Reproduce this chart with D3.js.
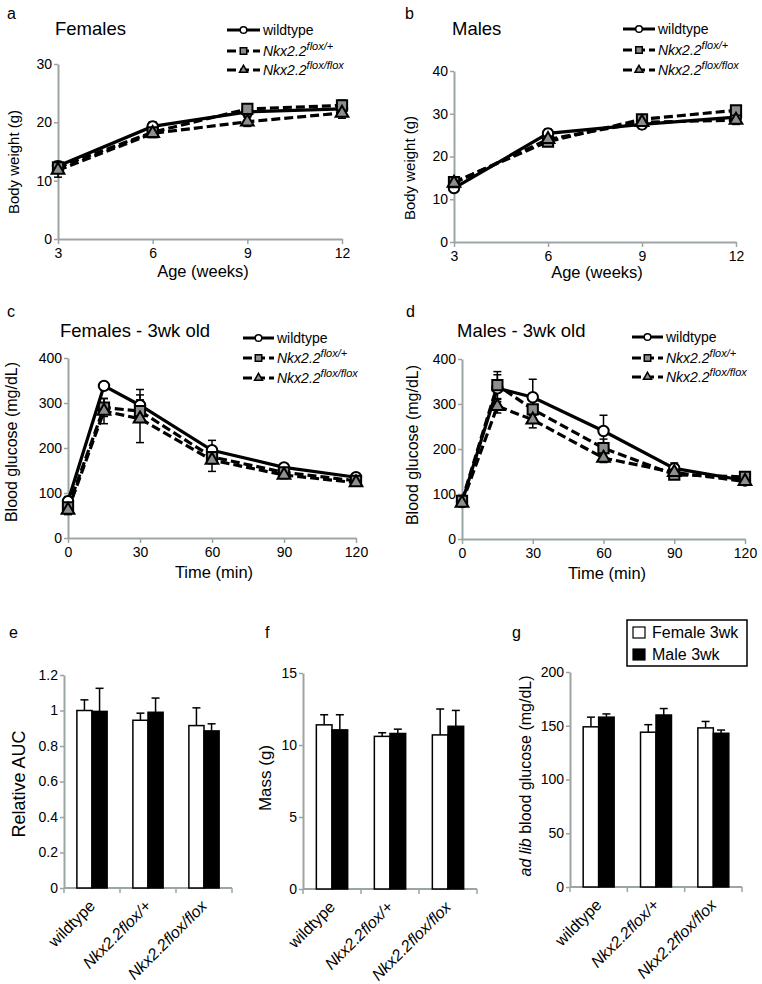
<!DOCTYPE html>
<html>
<head>
<meta charset="utf-8">
<script src="https://cdn.jsdelivr.net/npm/d3@7"></script>
<style>
  body { margin: 0; background: #fff; }
  svg  { display: block; }
</style>
</head>
<body>
<svg id="fig" width="762" height="984"></svg>
<script>
// ─── Data ─────────────────────────────────────────────────────────────────────
const WEEKS = [3, 6, 9, 12];
const F_WEIGHT_WT  = [12.5, 19.3, 21.8, 22.3];
const F_WEIGHT_HET = [12.3, 18.3, 22.3, 22.9];
const F_WEIGHT_HOM = [11.8, 18.1, 20.1, 21.6];
const F_WEIGHT_WT_ERR  = [0.8, 0.8, 0.8, 0.9];
const F_WEIGHT_HET_ERR = [0.8, 0.7, 0.8, 0.9];
const F_WEIGHT_HOM_ERR = [1.2, 0.7, 0.8, 0.9];

const M_WEIGHT_WT  = [12.6, 25.4, 27.5, 29.2];
const M_WEIGHT_HET = [14.0, 23.5, 28.7, 30.8];
const M_WEIGHT_HOM = [13.8, 24.0, 28.0, 28.5];
const M_WEIGHT_WT_ERR  = [1.0, 1.0, 1.0, 1.0];
const M_WEIGHT_HET_ERR = [1.0, 1.0, 1.0, 1.0];
const M_WEIGHT_HOM_ERR = [1.0, 1.0, 1.0, 1.0];

const TIMES = [0, 15, 30, 60, 90, 120];
const F_GTT_WT  = [82, 338, 295, 195, 157, 135];
const F_GTT_HET = [68, 290, 282, 180, 146, 127];
const F_GTT_HOM = [62, 282, 265, 173, 140, 123];
const F_GTT_WT_ERR  = [10, 8, 35, 22, 8, 8];
const F_GTT_HET_ERR = [10, 20, 25, 15, 8, 8];
const F_GTT_HOM_ERR = [10, 28, 53, 25, 8, 8];

const M_GTT_WT  = [82, 335, 315, 240, 157, 130];
const M_GTT_HET = [85, 342, 288, 202, 143, 138];
const M_GTT_HOM = [80, 295, 265, 180, 148, 128];
const M_GTT_WT_ERR  = [8, 30, 40, 35, 12, 8];
const M_GTT_HET_ERR = [8, 30, 20, 20, 10, 8];
const M_GTT_HOM_ERR = [8, 15, 18, 10, 8, 8];

const GENOTYPES = ['wildtype', 'Nkx2.2flox/+', 'Nkx2.2flox/flox'];
const AUC_FEMALE = [1.0, 0.945, 0.915];
const AUC_FEMALE_ERR = [0.06, 0.04, 0.10];
const AUC_MALE = [0.995, 0.99, 0.885];
const AUC_MALE_ERR = [0.13, 0.08, 0.04];

const MASS_FEMALE = [11.4, 10.6, 10.7];
const MASS_FEMALE_ERR = [0.7, 0.25, 1.8];
const MASS_MALE = [11.05, 10.8, 11.3];
const MASS_MALE_ERR = [1.05, 0.3, 1.1];

const GLU_FEMALE = [149, 144, 148];
const GLU_FEMALE_ERR = [9, 7, 6];
const GLU_MALE = [158, 160, 143];
const GLU_MALE_ERR = [3, 6, 3];

const AUC_TICKS  = [0, 0.2, 0.4, 0.6, 0.8, 1, 1.2];
const MASS_TICKS = [0, 5, 10, 15];
const GLU_TICKS  = [0, 50, 100, 150, 200];

// ─── Style ────────────────────────────────────────────────────────────────────
const FONT = '"Liberation Sans", Arial, Helvetica, sans-serif';
const AXIS = '#9ba5a5';
const GREY = '#8b8f8f';

const svg = d3.select('#fig').attr('font-family', FONT);

function styleAxis(sel) {
  sel.attr('font-family', FONT).attr('font-size', 14);
  sel.select('.domain').attr('stroke', AXIS).attr('stroke-width', 2);
  sel.selectAll('.tick line').attr('stroke', AXIS).attr('stroke-width', 1.5);
  sel.selectAll('.tick text').attr('fill', '#000');
}

function text(x, y, str, size, opts = {}) {
  const t = svg.append('text')
    .attr('x', x).attr('y', y)
    .attr('font-size', size)
    .attr('text-anchor', opts.anchor || 'start')
    .text(str);
  if (opts.italic) t.attr('font-style', 'italic');
  return t;
}

function yLabel(x, cy, parts, size) {
  const t = svg.append('text')
    .attr('transform', `translate(${x},${cy}) rotate(-90)`)
    .attr('text-anchor', 'middle')
    .attr('font-size', size);
  parts.forEach(p => t.append('tspan').attr('font-style', p.italic ? 'italic' : null).text(p.s));
}

// marker shapes
const SHAPES = {
  circle:   { type: d3.symbolCircle,   fill: '#fff' },
  square:   { type: d3.symbolSquare,   fill: GREY },
  triangle: { type: d3.symbolTriangle, fill: GREY },
};
const SIZES = { circle: 85, square: 105, triangle: 70 };

function genoLabel(t, suffix) {
  // legend label with italic gene name and superscript allele
  if (!suffix) { t.append('tspan').text('wildtype'); return; }
  t.append('tspan').attr('font-style', 'italic').text('Nkx2.2');
  t.append('tspan').attr('font-style', 'italic').attr('font-size', 11).attr('dy', -6).text(suffix);
}

// ─── Line panels ──────────────────────────────────────────────────────────────
function linePanel(cfg) {
  const x = d3.scaleLinear().domain(cfg.xDomain).range(cfg.xRange);
  const y = d3.scaleLinear().domain(cfg.yDomain).range(cfg.yRange);

  svg.append('g')
    .attr('transform', `translate(0,${cfg.yRange[0]})`)
    .call(d3.axisBottom(x).tickValues(cfg.xTicks).tickSize(5).tickSizeOuter(0).tickPadding(4))
    .call(styleAxis);
  svg.append('g')
    .attr('transform', `translate(${cfg.xRange[0]},0)`)
    .call(d3.axisLeft(y).tickValues(cfg.yTicks).tickSize(4).tickSizeOuter(0).tickPadding(2))
    .call(styleAxis);

  const line = d3.line().x((d, i) => x(cfg.xs[i])).y(d => y(d));

  // error bars
  cfg.series.forEach(s => {
    s.vals.forEach((v, i) => {
      const cx = x(cfg.xs[i]);
      const e = s.err[i];
      const g = svg.append('g').attr('stroke', '#000').attr('stroke-width', 1.5);
      g.append('line').attr('x1', cx).attr('x2', cx).attr('y1', y(v - e)).attr('y2', y(v + e));
      g.append('line').attr('x1', cx - 4).attr('x2', cx + 4).attr('y1', y(v + e)).attr('y2', y(v + e));
      g.append('line').attr('x1', cx - 4).attr('x2', cx + 4).attr('y1', y(v - e)).attr('y2', y(v - e));
    });
  });

  // lines
  cfg.series.forEach(s => {
    svg.append('path')
      .attr('d', line(s.vals))
      .attr('fill', 'none')
      .attr('stroke', '#000')
      .attr('stroke-width', 3.2)
      .attr('stroke-dasharray', s.dash ? '9,4' : null);
  });

  // markers
  cfg.series.forEach(s => {
    const sh = SHAPES[s.shape];
    svg.selectAll(null)
      .data(s.vals)
      .join('path')
      .attr('transform', (d, i) => `translate(${x(cfg.xs[i])},${y(d)})`)
      .attr('d', d3.symbol().type(sh.type).size(SIZES[s.shape]))
      .attr('fill', sh.fill)
      .attr('stroke', '#000')
      .attr('stroke-width', 2);
  });

  // legend
  cfg.series.forEach((s, i) => {
    const ly = cfg.legend.y[i];
    const [lx0, lx1] = cfg.legend.line;
    svg.append('line')
      .attr('x1', lx0).attr('x2', lx1).attr('y1', ly).attr('y2', ly)
      .attr('stroke', '#000').attr('stroke-width', 3)
      .attr('stroke-dasharray', s.dash ? '9,4' : null);
    const sh = SHAPES[s.shape];
    svg.append('path')
      .attr('transform', `translate(${(lx0 + lx1) / 2},${ly})`)
      .attr('d', d3.symbol().type(sh.type).size(SIZES[s.shape] * 0.4))
      .attr('fill', sh.fill).attr('stroke', '#000').attr('stroke-width', 1.5);
    const t = svg.append('text').attr('x', lx1 + 3).attr('y', ly + 5).attr('font-size', 14);
    genoLabel(t, s.suffix);
  });

  text(cfg.tag[0], cfg.tag[1], cfg.tagText, 16);
  text(cfg.title[0], cfg.title[1], cfg.titleText, 18.5);
  text(cfg.xLab[0], cfg.xLab[1], cfg.xLabText, 16.5, { anchor: 'middle' });
  yLabel(cfg.yLab[0], cfg.yLab[1], [{ s: cfg.yLabText }], cfg.yLabSize);
}

function series(wt, het, hom, wtE, hetE, homE) {
  return [
    { vals: wt,  err: wtE,  shape: 'circle',   dash: false, suffix: null },
    { vals: het, err: hetE, shape: 'square',   dash: true,  suffix: 'flox/+' },
    { vals: hom, err: homE, shape: 'triangle', dash: true,  suffix: 'flox/flox' },
  ];
}

linePanel({
  xs: WEEKS, xDomain: [3, 12], xRange: [58, 342], xTicks: WEEKS,
  yDomain: [0, 30], yRange: [239, 64], yTicks: [0, 10, 20, 30],
  series: series(F_WEIGHT_WT, F_WEIGHT_HET, F_WEIGHT_HOM, F_WEIGHT_WT_ERR, F_WEIGHT_HET_ERR, F_WEIGHT_HOM_ERR),
  legend: { line: [227, 260], y: [30, 51, 70] },
  tag: [7, 19], tagText: 'a',
  title: [55, 35], titleText: 'Females',
  xLab: [203, 277], xLabText: 'Age (weeks)',
  yLab: [19, 162], yLabText: 'Body weight (g)', yLabSize: 15,
});

linePanel({
  xs: WEEKS, xDomain: [3, 12], xRange: [454, 736], xTicks: WEEKS,
  yDomain: [0, 40], yRange: [242, 71], yTicks: [0, 10, 20, 30, 40],
  series: series(M_WEIGHT_WT, M_WEIGHT_HET, M_WEIGHT_HOM, M_WEIGHT_WT_ERR, M_WEIGHT_HET_ERR, M_WEIGHT_HOM_ERR),
  legend: { line: [623, 655], y: [29, 50, 70] },
  tag: [405, 19], tagText: 'b',
  title: [452, 35], titleText: 'Males',
  xLab: [597, 278], xLabText: 'Age (weeks)',
  yLab: [415, 168], yLabText: 'Body weight (g)', yLabSize: 15,
});

linePanel({
  xs: TIMES, xDomain: [0, 120], xRange: [68, 356], xTicks: [0, 30, 60, 90, 120],
  yDomain: [0, 400], yRange: [538, 358], yTicks: [0, 100, 200, 300, 400],
  series: series(F_GTT_WT, F_GTT_HET, F_GTT_HOM, F_GTT_WT_ERR, F_GTT_HET_ERR, F_GTT_HOM_ERR),
  legend: { line: [243, 274], y: [338, 358, 378] },
  tag: [7, 317], tagText: 'c',
  title: [60, 337], titleText: 'Females - 3wk old',
  xLab: [214, 578], xLabText: 'Time (min)',
  yLab: [17, 442], yLabText: 'Blood glucose (mg/dL)', yLabSize: 16,
});

linePanel({
  xs: TIMES, xDomain: [0, 120], xRange: [462, 745], xTicks: [0, 30, 60, 90, 120],
  yDomain: [0, 400], yRange: [539, 359], yTicks: [0, 100, 200, 300, 400],
  series: series(M_GTT_WT, M_GTT_HET, M_GTT_HOM, M_GTT_WT_ERR, M_GTT_HET_ERR, M_GTT_HOM_ERR),
  legend: { line: [632, 663], y: [337, 358, 377] },
  tag: [406, 317], tagText: 'd',
  title: [457, 337], titleText: 'Males - 3wk old',
  xLab: [607, 579], xLabText: 'Time (min)',
  yLab: [418, 445], yLabText: 'Blood glucose (mg/dL)', yLabSize: 16,
});

// ─── Bar panels ───────────────────────────────────────────────────────────────
function barPanel(cfg) {
  const x0 = d3.scaleBand().domain(GENOTYPES).range([cfg.xRange[0], cfg.xRange[1]]);
  const bw = x0.bandwidth();
  const x1 = d3.scaleBand().domain(['F', 'M']).range([bw * 0.23, bw * 0.77]);
  const y = d3.scaleLinear().domain([0, cfg.yMax]).range(cfg.yRange);

  svg.append('g')
    .attr('transform', `translate(${cfg.xRange[0]},0)`)
    .call(d3.axisLeft(y).tickValues(cfg.ticks).tickFormat(String).tickSize(4).tickSizeOuter(0).tickPadding(2))
    .call(styleAxis);

  // category axis with ticks at band edges
  const base = cfg.yRange[0];
  const xg = svg.append('g').attr('stroke', AXIS);
  xg.append('line').attr('x1', cfg.xRange[0]).attr('x2', cfg.xRange[1])
    .attr('y1', base).attr('y2', base).attr('stroke-width', 2);
  const edges = GENOTYPES.map(g => x0(g)).concat([x0(GENOTYPES[2]) + bw]);
  xg.selectAll(null).data(edges).join('line')
    .attr('x1', d => d).attr('x2', d => d)
    .attr('y1', base).attr('y2', base + 5).attr('stroke-width', 1.5);

  const groups = [
    { key: 'F', vals: cfg.female, err: cfg.femaleErr, fill: '#fff' },
    { key: 'M', vals: cfg.male,   err: cfg.maleErr,   fill: '#000' },
  ];
  groups.forEach(gr => {
    gr.vals.forEach((v, i) => {
      const bx = x0(GENOTYPES[i]) + x1(gr.key);
      const cx = bx + x1.bandwidth() / 2;
      const top = y(v + gr.err[i]);
      svg.append('line').attr('x1', cx).attr('x2', cx).attr('y1', y(v)).attr('y2', top)
        .attr('stroke', '#000').attr('stroke-width', 1.5);
      svg.append('line').attr('x1', cx - 4).attr('x2', cx + 4).attr('y1', top).attr('y2', top)
        .attr('stroke', '#000').attr('stroke-width', 1.5);
      svg.append('rect')
        .attr('x', bx).attr('y', y(v))
        .attr('width', x1.bandwidth()).attr('height', y(0) - y(v))
        .attr('fill', gr.fill).attr('stroke', '#000').attr('stroke-width', 1.5);
    });
  });

  GENOTYPES.forEach(g => {
    const cx = x0(g) + bw / 2;
    svg.append('text')
      .attr('transform', `translate(${cx + 4},${base + 19}) rotate(-45)`)
      .attr('text-anchor', 'end')
      .attr('font-size', 16)
      .attr('font-style', g === 'wildtype' ? null : 'italic')
      .text(g);
  });

  text(cfg.tag[0], cfg.tag[1], cfg.tagText, 16);
  yLabel(cfg.yLab[0], cfg.yLab[1], cfg.yLabParts, cfg.yLabSize);
}

barPanel({
  xRange: [64, 232], yRange: [888, 675], yMax: 1.2, ticks: AUC_TICKS,
  female: AUC_FEMALE, femaleErr: AUC_FEMALE_ERR, male: AUC_MALE, maleErr: AUC_MALE_ERR,
  tag: [9, 638], tagText: 'e',
  yLab: [25, 784], yLabParts: [{ s: 'Relative AUC' }], yLabSize: 18,
});

barPanel({
  xRange: [303, 477], yRange: [889, 673], yMax: 15, ticks: MASS_TICKS,
  female: MASS_FEMALE, femaleErr: MASS_FEMALE_ERR, male: MASS_MALE, maleErr: MASS_MALE_ERR,
  tag: [265, 638], tagText: 'f',
  yLab: [271, 778], yLabParts: [{ s: 'Mass (g)' }], yLabSize: 17,
});

barPanel({
  xRange: [570, 742], yRange: [887, 672], yMax: 200, ticks: GLU_TICKS,
  female: GLU_FEMALE, femaleErr: GLU_FEMALE_ERR, male: GLU_MALE, maleErr: GLU_MALE_ERR,
  tag: [512, 638], tagText: 'g',
  yLab: [531, 776], yLabParts: [{ s: 'ad lib', italic: true }, { s: ' blood glucose (mg/dL)' }], yLabSize: 16,
});

// legend for panel g
const legG = svg.append('g');
legG.append('rect').attr('x', 627).attr('y', 620).attr('width', 120).attr('height', 46)
  .attr('fill', '#fff').attr('stroke', '#000').attr('stroke-width', 1.5);
[['Female 3wk', '#fff', 638], ['Male 3wk', '#000', 660]].forEach(([lab, fill, by]) => {
  legG.append('rect').attr('x', 633).attr('y', by - 11).attr('width', 12).attr('height', 11)
    .attr('fill', fill).attr('stroke', '#000').attr('stroke-width', 1.2);
  legG.append('text').attr('x', 652).attr('y', by).attr('font-size', 16).text(lab);
});
</script>
</body>
</html>
